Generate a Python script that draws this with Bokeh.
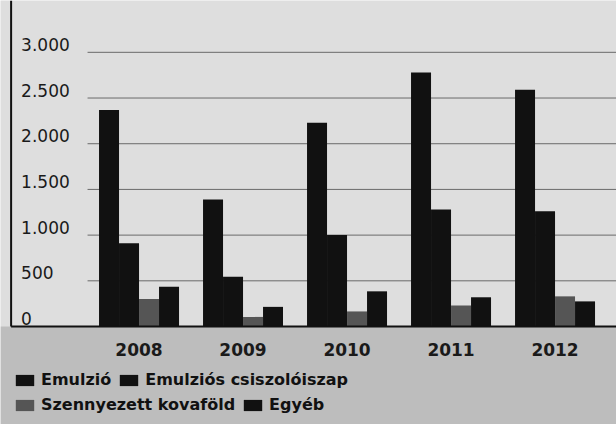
from bokeh.plotting import figure
from bokeh.models import Range1d, Legend, LegendItem, BoxAnnotation
from bokeh.core.properties import value
from bokeh.embed import file_html
from bokeh.resources import INLINE

years = ["2008", "2009", "2010", "2011", "2012"]
emulzio = [2370, 1390, 2230, 2780, 2590]
csiszolo = [910, 545, 1000, 1280, 1260]
szennyezett = [300, 105, 165, 230, 330]
egyeb = [435, 215, 385, 320, 275]
series_names = ["Emulzió", "Emulziós csiszolóiszap", "Szennyezett kovaföld", "Egyéb"]
y_ticks = [0, 500, 1000, 1500, 2000, 2500, 3000]
y_tick_labels = ["0", "500", "1.000", "1.500", "2.000", "2.500", "3.000"]

W = 0.1923
X0, X1 = -1.332, 4.591
Y0, Y1 = -1072, 3567
AXIS_X = -1.23
GRID_X = -0.495

p = figure(width=616, height=424, x_range=Range1d(X0, X1), y_range=Range1d(Y0, Y1),
           output_backend="svg", toolbar_location=None,
           min_border_left=0, min_border_right=0, min_border_top=0, min_border_bottom=0)
p.background_fill_color = "#dedede"
p.border_fill_color = "#bcbcbc"
p.outline_line_color = None
p.xgrid.visible = False
p.ygrid.visible = False
p.xaxis.visible = False
p.yaxis.visible = False

# darker scanned-paper area below the chart
p.add_layout(BoxAnnotation(top=0, fill_color="#bdbdbd", fill_alpha=1, line_color=None, level="underlay"))

# grid lines starting right of the tick labels
n = len(y_ticks) - 1
p.segment(x0=[GRID_X] * n, x1=[X1] * n, y0=y_ticks[1:], y1=y_ticks[1:],
          line_color="#6a6a6a", line_width=1)

idx = list(range(len(years)))
colors = ["#111111", "#111111", "#555555", "#111111"]
data = [emulzio, csiszolo, szennyezett, egyeb]
offsets = [-1.5 * W, -0.5 * W, 0.5 * W, 1.5 * W]
rs = []
for vals, off, col in zip(data, offsets, colors):
    r = p.vbar(x=[i + off for i in idx], top=vals, width=W, fill_color=col, line_color=None)
    rs.append(r)

# axis lines (vertical one stops at the baseline)
p.segment(x0=[AXIS_X], x1=[X1], y0=[0], y1=[0], line_color="#111111", line_width=2)
p.segment(x0=[AXIS_X], x1=[AXIS_X], y0=[0], y1=[Y1], line_color="#111111", line_width=2)

# y tick labels, sitting above the grid lines
p.text(x=[AXIS_X] * len(y_ticks), y=y_ticks, text=y_tick_labels, x_offset=10, y_offset=-8,
       text_baseline="alphabetic", text_align="left", text_font=value("DejaVu Sans"),
       text_font_size="17px", text_color="#1a1a1a")

# year labels
p.text(x=idx, y=[0] * len(idx), text=years, y_offset=23, text_baseline="middle",
       text_align="center", text_font=value("DejaVu Sans"), text_font_size="17px",
       text_font_style="bold", text_color="#1a1a1a")


def make_legend(items, loc):
    lg = Legend(items=items, location=loc, orientation="horizontal")
    lg.label_text_font = "DejaVu Sans"
    lg.label_text_font_size = "16px"
    lg.label_text_font_style = "bold"
    lg.label_text_color = "#111111"
    lg.glyph_width = 23
    lg.glyph_height = 14
    lg.label_standoff = 5
    lg.spacing = 6
    lg.padding = 0
    lg.margin = 0
    lg.label_height = 16
    lg.background_fill_alpha = 0
    lg.border_line_alpha = 0
    return lg


leg1 = make_legend([LegendItem(label=series_names[0], renderers=[rs[0]]),
                    LegendItem(label=series_names[1], renderers=[rs[1]])], (13, 35))
leg2 = make_legend([LegendItem(label=series_names[2], renderers=[rs[2]]),
                    LegendItem(label=series_names[3], renderers=[rs[3]])], (13, 10))
p.add_layout(leg1)
p.add_layout(leg2)

open("out.html", "w").write(file_html(p, INLINE))
